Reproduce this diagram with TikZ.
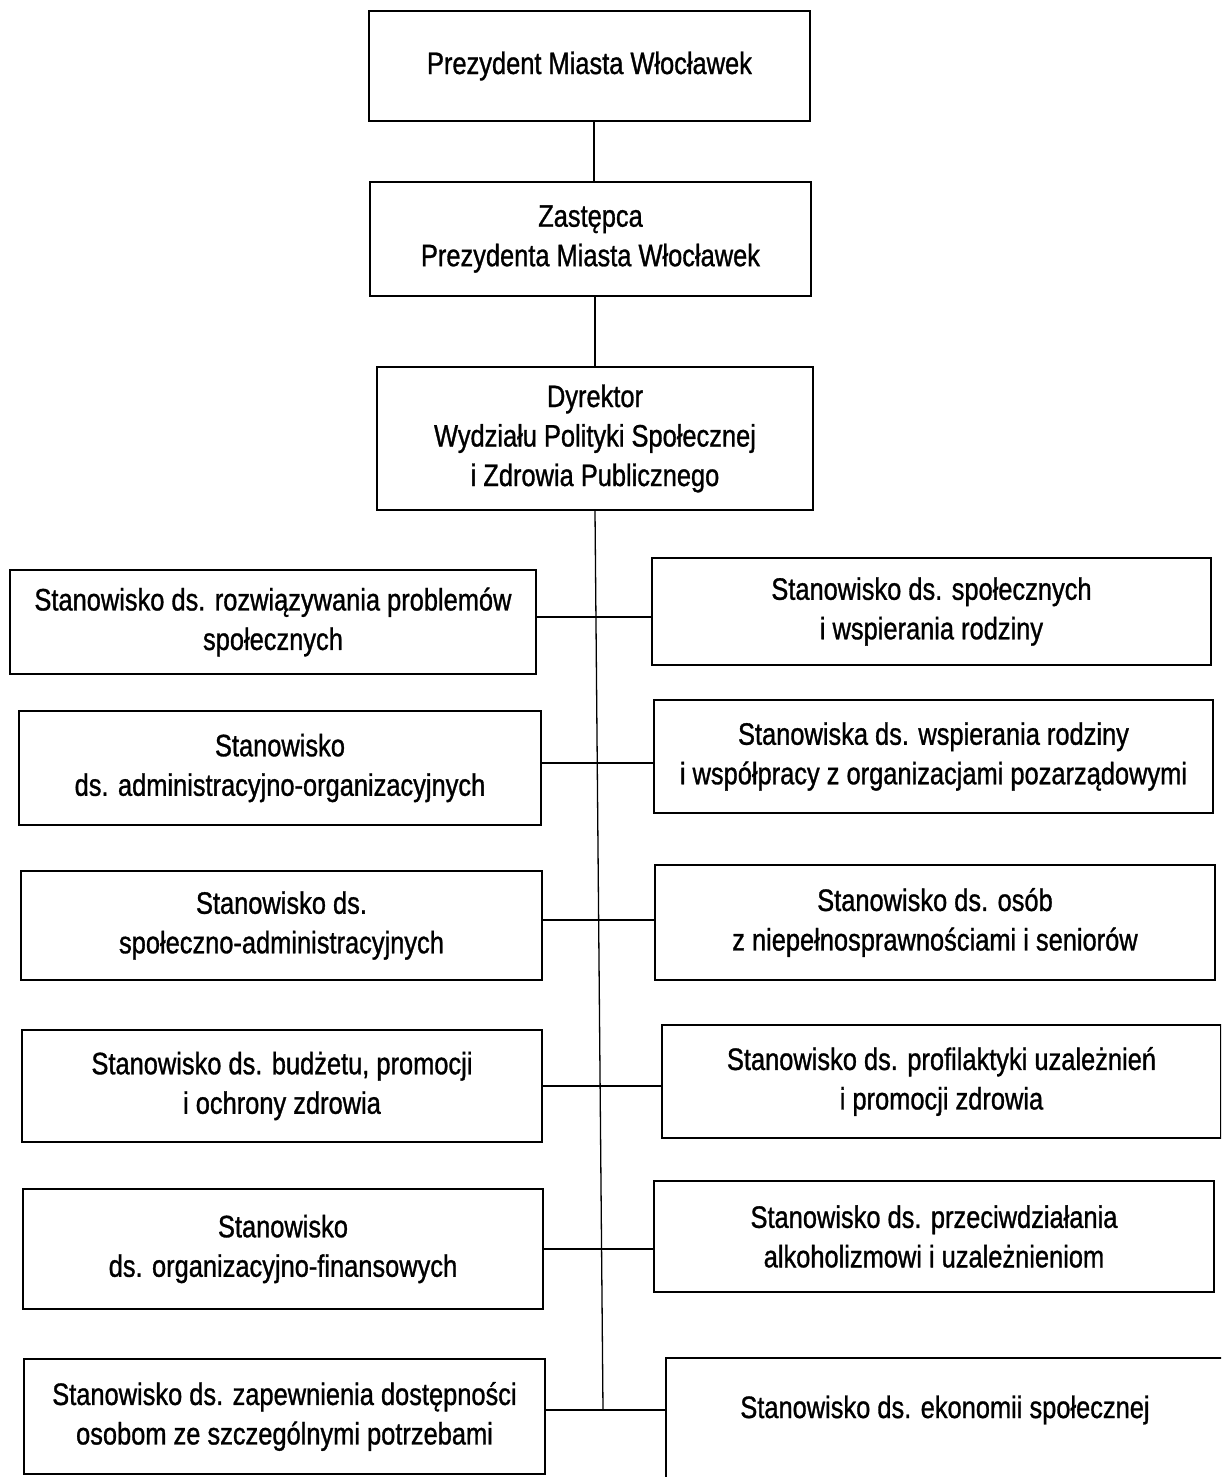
\documentclass[tikz,border=0pt]{standalone}
\usepackage{fontspec}
\setmainfont{Liberation Sans}[FakeStretch=0.82,FakeBold=1.0]
\begin{document}
\begin{tikzpicture}[x=1pt,y=-1pt,
  box/.style={draw=black, line width=2pt, rectangle, align=center, inner sep=0pt,
    font=\fontsize{31}{39.5}\selectfont},
  conn/.style={draw=black, line width=1.3pt}]
\useasboundingbox (0,0) rectangle (1221,1477);
\fill[white] (0,0) rectangle (1221,1477);
\clip (0,0) rectangle (1221,1477);

\node[box, minimum width=441, minimum height=110] (P) at (589.5,66) {Prezydent Miasta Włocławek};
\node[box, minimum width=441, minimum height=114] (Z) at (590.5,239) {Zastępca\\Prezydenta Miasta Włocławek};
\node[box, minimum width=436, minimum height=143] (D) at (595,438.5) {Dyrektor\\Wydziału Polityki Społecznej\\i Zdrowia Publicznego};

\node[box, minimum width=526, minimum height=104] (L1) at (273,622) {Stanowisko ds. rozwiązywania problemów\\społecznych};
\node[box, minimum width=522, minimum height=114] (L2) at (280,768) {Stanowisko\\ds. administracyjno-organizacyjnych};
\node[box, minimum width=521, minimum height=109] (L3) at (281.5,925.5) {Stanowisko ds.\\społeczno-administracyjnych};
\node[box, minimum width=520, minimum height=112] (L4) at (282,1086) {Stanowisko ds. budżetu, promocji\\i ochrony zdrowia};
\node[box, minimum width=520, minimum height=120] (L5) at (283,1249) {Stanowisko\\ds. organizacyjno-finansowych};
\node[box, minimum width=521, minimum height=115] (L6) at (284.5,1416.5) {Stanowisko ds. zapewnienia dostępności\\osobom ze szczególnymi potrzebami};

\node[box, minimum width=559, minimum height=107] (R1) at (931.5,611.5) {Stanowisko ds. społecznych\\i wspierania rodziny};
\node[box, minimum width=559, minimum height=113] (R2) at (933.5,756.5) {Stanowiska ds. wspierania rodziny\\i współpracy z organizacjami pozarządowymi};
\node[box, minimum width=560, minimum height=115] (R3) at (935,922.5) {Stanowisko ds. osób\\z niepełnosprawnościami i seniorów};
\node[box, minimum width=559, minimum height=113] (R4) at (941.5,1081.5) {Stanowisko ds. profilaktyki uzależnień\\i promocji zdrowia};
\node[box, minimum width=560, minimum height=111] (R5) at (934,1236.5) {Stanowisko ds. przeciwdziałania\\alkoholizmowi i uzależnieniom};
\node[box, minimum width=574, minimum height=162] (R6) at (953,1439) {};
\node[font=\fontsize{31}{39.5}\selectfont, inner sep=0pt] (R6t) at (945,1410) {Stanowisko ds. ekonomii społecznej};

\coordinate (c1) at (596,617);
\coordinate (c2) at (597,763);
\coordinate (c3) at (598,920);
\coordinate (c4) at (600,1086);
\coordinate (c5) at (601,1249);
\coordinate (c6) at (603,1410);

\draw[conn] (P.south -| 594,0) -- (Z.north -| 594,0);
\draw[conn] (Z.south -| 595,0) -- (D.north -| 595,0);
\draw[conn] (D.south -| 595,0) -- (c6);

\draw[conn] (L1.east |- c1) -- (R1.west |- c1);
\draw[conn] (L2.east |- c2) -- (R2.west |- c2);
\draw[conn] (L3.east |- c3) -- (R3.west |- c3);
\draw[conn] (L4.east |- c4) -- (R4.west |- c4);
\draw[conn] (L5.east |- c5) -- (R5.west |- c5);
\draw[conn] (L6.east |- c6) -- (R6.west |- c6);
\end{tikzpicture}
\end{document}
